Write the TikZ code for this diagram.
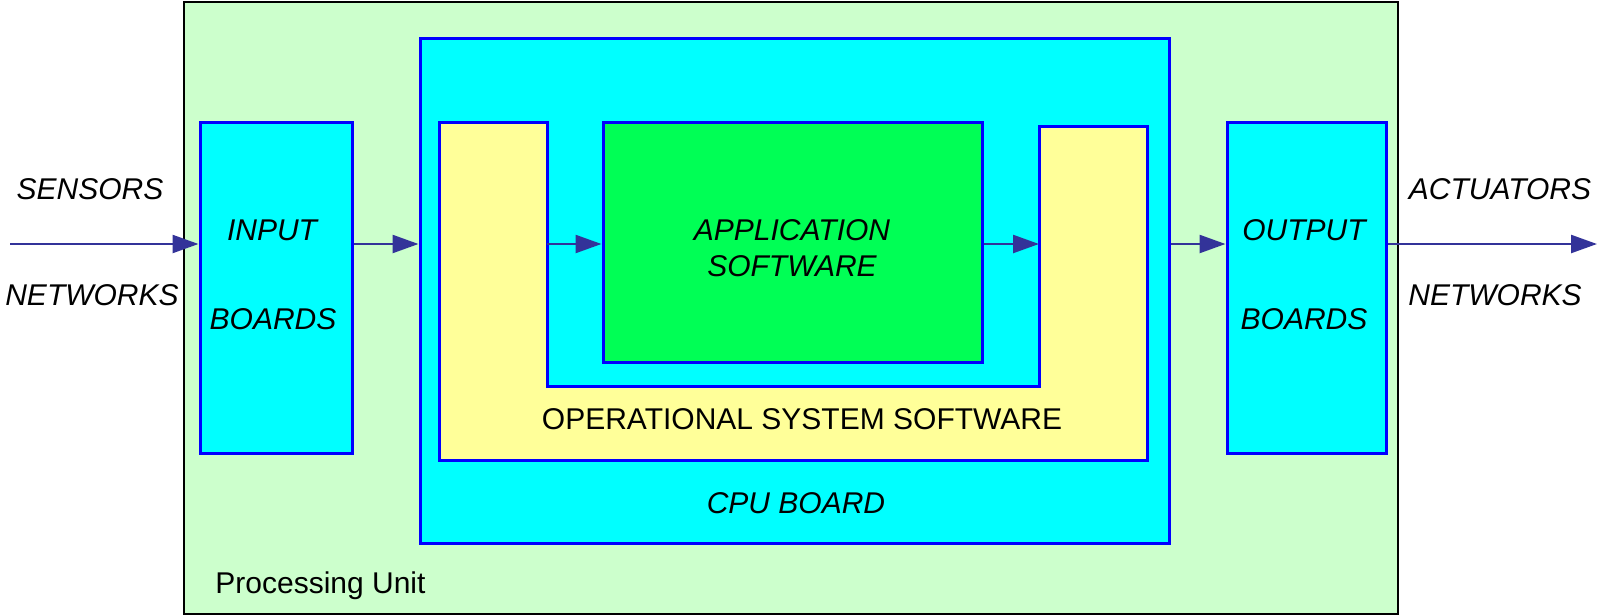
\documentclass[tikz,border=0pt]{standalone}
\usepackage{fontspec}
\setmainfont{Liberation Sans}
\usetikzlibrary{arrows.meta,fit,calc}
\definecolor{unitgreen}{HTML}{CCFFCC}
\definecolor{boardcyan}{HTML}{00FFFF}
\definecolor{ossyellow}{HTML}{FFFF99}
\definecolor{appgreen}{HTML}{00FF55}
\definecolor{edgeblue}{HTML}{0000FF}
\definecolor{flowblue}{HTML}{333399}
\tikzset{
  unitbox/.style={draw=black, line width=1pt, fill=unitgreen, inner sep=0pt},
  board/.style={draw=edgeblue, line width=1.5pt, fill=boardcyan, inner sep=0pt},
  appbox/.style={draw=edgeblue, line width=1.5pt, fill=appgreen, inner sep=0pt},
  osspath/.style={draw=edgeblue, line width=1.5pt, fill=ossyellow, line join=miter},
  flow/.style={draw=flowblue, line width=1.2pt, -{Triangle[length=13pt,width=9pt]}, color=flowblue},
  lbl/.style={font=\fontsize{15}{18}\selectfont\itshape, inner sep=0pt, anchor=center},
  plain/.style={font=\fontsize{15}{18}\selectfont, inner sep=0pt}
}
\begin{document}
\begin{tikzpicture}[x=0.5pt, y=-0.5pt]
\useasboundingbox (0,0) rectangle (1597,616);

% processing unit frame
\node[unitbox, fit={(184,2) (1398,614)}] (unit) {};

% boards
\node[board, fit={(200,122) (352,453)}] (inp) {};
\node[board, fit={(420,38) (1169,543)}] (cpu) {};
\node[board, fit={(1227,122) (1386,453)}] (outp) {};

% operational system software (U shape)
\path[osspath] (439,122) coordinate (ossA) -- (547,122) -- (547,386) coordinate (ossIn)
  -- (1039,386) -- (1039,126) coordinate (ossB) -- (1147,126) -- (1147,460) -- (439,460) -- cycle;
\coordinate (ossL) at (547,244);
\coordinate (ossR) at (1039,244);

% application software
\node[appbox, fit={(603,122) (982,362)}] (app) {};

% signal line
\coordinate (src) at (10,244);
\coordinate (dst) at (1597,244);

\draw[flow] (src) -- (inp.west |- src);
\draw[flow] (inp.east |- src) -- (cpu.west |- src);
\draw[flow] (ossL) -- (app.west |- ossL);
\draw[flow] (app.east |- ossR) -- (ossR);
\draw[flow] (cpu.east |- src) -- (outp.west |- src);
\draw[flow] (outp.east |- src) -- (dst);

% labels
\node[lbl] (tsens) at (90,189) {SENSORS};
\node[lbl] (tnet1) at (92,295) {NETWORKS};
\node[lbl] (tin1) at (272,230) {INPUT};
\node[lbl] (tin2) at (273,319) {BOARDS};
\node[lbl] (tapp1) at (792,230) {APPLICATION};
\node[lbl] (tapp2) at (792,266) {SOFTWARE};
\node[lbl] (tout1) at (1304,230) {OUTPUT};
\node[lbl] (tout2) at (1304,319) {BOARDS};
\node[lbl] (tact) at (1500,189) {ACTUATORS};
\node[lbl] (tnet2) at (1495,295) {NETWORKS};
\node[plain] (toss) at (802,419) {OPERATIONAL SYSTEM SOFTWARE};
\node[lbl] (tcpu) at (796,503) {CPU BOARD};
\node[plain, anchor=west] (tunit) at (215,586) {Processing Unit};
\end{tikzpicture}
\end{document}
